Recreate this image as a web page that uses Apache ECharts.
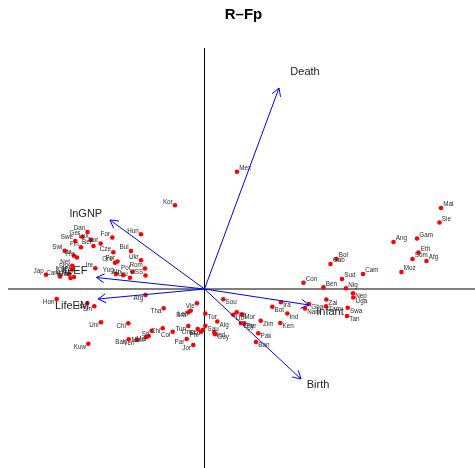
<!DOCTYPE html>
<html>
<head>
<meta charset="utf-8">
<script src="https://cdn.jsdelivr.net/npm/echarts@6/dist/echarts.min.js"></script>
<style>
  html, body { margin: 0; padding: 0; background: #fff; }
  #c { width: 475px; height: 468px; }
</style>
</head>
<body>
<div id="c"></div>
<script>
// Row scores (countries)
const countries = [
  'Mal','Sie','Ang','Gam','Eth','Som','Afg','Moz','Bol','Gab','Cam','Sud','Con','Ben','Nig','Mex','Kor',
  'Nep','Uga','Zai','Gha','Nam','Zam','Swa','Tan','Ira','Bot','Ind','Ken','Zim','Pak','Ban','Sou','Tur',
  'Alg','Sau','Ind','Guy','Lib','Irq','Mor','Egy','Per',
  'Vie','Leb','Bra','Tha','Arg','Tun','Oma','Ecu','Phi','Col','Chi','Sri','Mal','Mon','Bah','Ven','Par',
  'Jor','Chi','Uni','Kuw','Sin','Isr','Hon',
  'Jap','Hun','Dan','Ger','Lux','Swe','Nor','Bel','Fin','Swi','Ita','Fra','Net','Ire','Spa','UK','Can',
  'Aus','USA','For','Cze','Bul','Ukr','Gre','Por','Rom','Pol','USS','Yug','Alb','Uru'
];
const scoreX = [
  2.365, 2.350, 1.890, 2.125, 2.140, 2.080, 2.220, 1.970, 1.320, 1.260, 1.585, 1.375, 0.990, 1.190, 1.415, 0.325, -0.295,
  1.485, 1.488, 1.218, 1.045, 1.005, 1.215, 1.432, 1.425, 0.765, 0.678, 0.828, 0.758, 0.562, 0.538, 0.515, 0.188, 0.008,
  0.128, 0.008, 0.098, 0.105, 0.288, 0.322, 0.375, 0.365, 0.398,
  -0.075, -0.138, -0.162, -0.408, -0.590, -0.162, -0.068, -0.018, -0.035, -0.318, -0.418, -0.528, -0.558, -0.585, -0.758, -0.678, -0.178,
  -0.112, -0.762, -1.035, -1.162, -1.102, -1.172, -1.478,
  -1.585, -0.635, -1.170, -1.222, -1.135, -1.292, -1.038, -1.110, -1.235, -1.398, -1.305, -1.275, -1.322, -1.092, -1.322, -1.355, -1.445,
  -1.340, -1.305, -0.922, -0.912, -0.735, -0.635, -0.895, -0.870, -0.595, -0.720, -0.590, -0.885, -0.812, -0.745
];
const scoreY = [
  0.810, 0.665, 0.470, 0.505, 0.365, 0.300, 0.280, 0.170, 0.300, 0.250, 0.150, 0.100, 0.063, 0.017, 0.007, 1.173, 0.837,
  -0.043, -0.085, -0.105, -0.150, -0.195, -0.173, -0.187, -0.270, -0.133, -0.177, -0.245, -0.340, -0.317, -0.443, -0.530, -0.102, -0.245,
  -0.325, -0.367, -0.433, -0.453, -0.257, -0.233, -0.253, -0.343, -0.343,
  -0.143, -0.217, -0.233, -0.193, -0.060, -0.370, -0.400, -0.410, -0.427, -0.427, -0.393, -0.417, -0.470, -0.483, -0.503, -0.510, -0.500,
  -0.560, -0.343, -0.333, -0.547, -0.173, -0.143, -0.100,
  0.143, 0.547, 0.570, 0.523, 0.490, 0.480, 0.455, 0.430, 0.417, 0.383, 0.333, 0.315, 0.233, 0.207, 0.195, 0.150, 0.125,
  0.110, 0.120, 0.515, 0.367, 0.380, 0.287, 0.263, 0.275, 0.205, 0.173, 0.135, 0.150, 0.137, 0.113
];

// Column loadings (variables)
const variables = ['Death', 'lnGNP', 'LifeEF', 'LifeEM', 'Infant', 'Birth'];
const loadX = [0.745, -0.945, -1.080, -1.065, 1.045, 0.965];
const loadY = [2.010, 0.690, 0.115, -0.100, -0.160, -0.900];

// Plot window
const X_MIN = -2.045, X_MAX = 2.705, Y_MIN = -1.79, Y_MAX = 2.89;
const V_AXIS_TOP = 2.41, H_AXIS_LEFT = -1.965;

// Pixel nudges for variable names relative to the arrow tip
const varLabelNudge = {
  Death: [26, -16], lnGNP: [-24, -6], LifeEF: [-25, -6.5],
  LifeEM: [-26, 6.5], Infant: [21, 7], Birth: [17, 6]
};

const FONT = '"Liberation Sans", Arial, Helvetica, sans-serif';
const chart = echarts.init(document.getElementById('c'), null, { renderer: 'canvas' });

const pointData = countries.map((n, i) => ({
  name: n,
  value: [scoreX[i], scoreY[i]],
  label: {
    position: scoreX[i] >= 0 ? 'right' : 'left',
    offset: [0, scoreY[i] >= 0 ? -3.3 : 3.3]
  }
}));

chart.setOption({
  animation: false,
  backgroundColor: '#fff',
  grid: { left: 0, right: 0, top: 0, bottom: 0 },
  xAxis: { type: 'value', min: X_MIN, max: X_MAX, show: false },
  yAxis: { type: 'value', min: Y_MIN, max: Y_MAX, show: false },
  graphic: [{
    type: 'text', x: 243.5, y: 14.5, silent: true,
    style: { text: 'R–Fp', font: 'bold 15px ' + FONT, fill: '#000', align: 'center', verticalAlign: 'middle' }
  }],
  series: [
    {
      // reference axes through the origin
      type: 'custom', silent: true, z: 1,
      data: [[0, 0]],
      renderItem: (params, api) => {
        const top = api.coord([0, V_AXIS_TOP]);
        const bot = api.coord([0, Y_MIN]);
        const lft = api.coord([H_AXIS_LEFT, 0]);
        const rgt = api.coord([X_MAX, 0]);
        return {
          type: 'group',
          children: [
            { type: 'line', shape: { x1: lft[0], y1: lft[1], x2: rgt[0], y2: rgt[1] },
              style: { stroke: '#555', lineWidth: 1.4 } },
            { type: 'line', shape: { x1: top[0], y1: top[1], x2: bot[0], y2: bot[1] },
              style: { stroke: '#000', lineWidth: 1 } }
          ]
        };
      }
    },
    {
      type: 'scatter', z: 2,
      symbol: 'circle', symbolSize: 4.6,
      itemStyle: { color: '#ff0000', opacity: 1 },
      label: {
        show: true, formatter: '{b}', distance: 0,
        fontSize: 6.3, color: '#2a2a2a', fontFamily: FONT
      },
      emphasis: { disabled: true },
      data: pointData
    },
    {
      // variable arrows
      type: 'custom', silent: true, z: 3,
      data: variables.map((v, i) => [loadX[i], loadY[i], i]),
      renderItem: (params, api) => {
        const o = api.coord([0, 0]);
        const t = api.coord([api.value(0), api.value(1)]);
        const name = variables[api.value(2)];
        const a = Math.atan2(t[1] - o[1], t[0] - o[0]);
        const L = 9, phi = Math.PI / 6;
        const h1 = [t[0] - L * Math.cos(a - phi), t[1] - L * Math.sin(a - phi)];
        const h2 = [t[0] - L * Math.cos(a + phi), t[1] - L * Math.sin(a + phi)];
        const nd = varLabelNudge[name];
        const st = { stroke: '#0000ff', lineWidth: 1, fill: null };
        return {
          type: 'group',
          children: [
            { type: 'line', shape: { x1: o[0], y1: o[1], x2: t[0], y2: t[1] }, style: st },
            { type: 'polyline', shape: { points: [h1, t, h2] }, style: st },
            { type: 'text', x: t[0] + nd[0], y: t[1] + nd[1],
              style: { text: name, font: '11px ' + FONT, fill: '#222', align: 'center', verticalAlign: 'middle' } }
          ]
        };
      }
    }
  ]
});
</script>
</body>
</html>
